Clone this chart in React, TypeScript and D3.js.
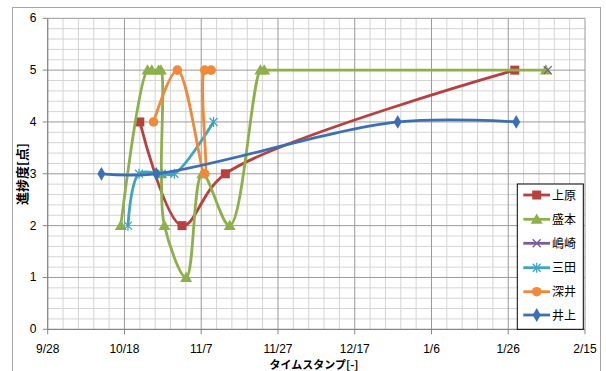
import React from "react";
import * as d3 from "d3";

const W = 606;
const H = 371;

const startDate = "2013-09-28T00:00";
const endDate = "2014-02-15T00:00";
const yTicks = [0, 1, 2, 3, 4, 5, 6];

const seriesNames = ["上原", "盛本", "嶋崎", "三田", "深井", "井上"];
const seriesColors = ["#B7413E", "#8EB04A", "#7A5C9E", "#3FA5BF", "#F0893A", "#3C6FB4"];
const seriesMarkers = ["square", "triangle", "x", "star", "circle", "diamond"];

const ueharaT = ["2013-10-22T00:00", "2013-11-02T00:00", "2013-11-13T07:00", "2014-01-27T17:00"];
const ueharaV = [4, 2, 3, 5];

const morimotoT = [
  "2013-10-17T01:00", "2013-10-24T00:00", "2013-10-25T03:00", "2013-10-26T22:00",
  "2013-10-27T12:00", "2013-10-27T15:00", "2013-10-28T10:00", "2013-11-03T02:00",
  "2013-11-07T07:00", "2013-11-14T10:00", "2013-11-22T10:00", "2013-11-23T10:00",
  "2014-02-04T19:00",
];
const morimotoV = [2, 5, 5, 5, 5, 3, 2, 1, 3, 2, 5, 5, 5];

const shimazakiT = ["2014-02-05T07:00"];
const shimazakiV = [5];

const mitaT = ["2013-10-18T22:00", "2013-10-21T19:00", "2013-10-27T17:00", "2013-10-31T00:00", "2013-11-10T05:00"];
const mitaV = [2, 3, 3, 3, 4];

const fukaiT = ["2013-10-25T14:00", "2013-10-31T19:00", "2013-11-07T22:00", "2013-11-07T22:00", "2013-11-09T14:00"];
const fukaiV = [4, 5, 3, 5, 5];

const inoueT = ["2013-10-12T00:00", "2013-10-26T07:00", "2013-12-28T05:00", "2014-01-28T02:00"];
const inoueV = [3, 3, 4, 4];

const seriesT = [ueharaT, morimotoT, shimazakiT, mitaT, fukaiT, inoueT];
const seriesV = [ueharaV, morimotoV, shimazakiV, mitaV, fukaiV, inoueV];

const parse = d3.utcParse("%Y-%m-%dT%H:%M");
const fmt = d3.utcFormat("%-m/%-d");

const FONT = "'Liberation Sans', Arial, 'Noto Sans CJK JP', sans-serif";
const JFONT = "'Noto Sans CJK JP', 'Liberation Sans', sans-serif";

function Marker({ type, x, y, color }: { type: string; x: number; y: number; color: string }) {
  if (type === "square") {
    return <rect x={x - 4.5} y={y - 4.5} width={9} height={9} fill={color} />;
  }
  if (type === "triangle") {
    const p = d3.symbol().type(d3.symbolTriangle).size(62)();
    return <path d={p || ""} transform={`translate(${x},${y + 1})`} fill={color} />;
  }
  if (type === "circle") {
    return <circle cx={x} cy={y} r={4.8} fill={color} />;
  }
  if (type === "diamond") {
    const p = d3.symbol().type(d3.symbolDiamond).size(55)();
    return <path d={p || ""} transform={`translate(${x},${y})`} fill={color} />;
  }
  if (type === "x") {
    return (
      <g stroke={color} strokeWidth={1.3}>
        <line x1={x - 4} y1={y - 4} x2={x + 4} y2={y + 4} />
        <line x1={x - 4} y1={y + 4} x2={x + 4} y2={y - 4} />
      </g>
    );
  }
  return (
    <g stroke={color} strokeWidth={1.3}>
      <line x1={x - 4} y1={y - 4} x2={x + 4} y2={y + 4} />
      <line x1={x - 4} y1={y + 4} x2={x + 4} y2={y - 4} />
      <line x1={x} y1={y - 5} x2={x} y2={y + 5} />
    </g>
  );
}

export default function App() {
  const t0 = parse(startDate) as Date;
  const t1 = parse(endDate) as Date;
  const left = 47.7;
  const right = 585;
  const top = 18.3;
  const bottom = 329.3;

  const x = d3.scaleUtc().domain([t0, t1]).range([left, right]);
  const y = d3.scaleLinear().domain([0, 6]).range([bottom, top]);

  const majorX: Date[] = [];
  for (let i = 0; i <= 7; i++) majorX.push(d3.utcDay.offset(t0, i * 20));
  const minorX: Date[] = [];
  for (let i = 0; i <= 35; i++) if (i % 5 !== 0) minorX.push(d3.utcDay.offset(t0, i * 4));
  const minorY: number[] = [];
  for (let i = 0; i <= 30; i++) if (i % 5 !== 0) minorY.push(i * 0.2);

  const line = d3
    .line<[number, number]>()
    .x((d) => d[0])
    .y((d) => d[1])
    .curve(d3.curveCatmullRom.alpha(0.5));

  const pts = seriesT.map((ts, i) =>
    ts.map((t, j) => [x(parse(t) as Date), y(seriesV[i][j])] as [number, number])
  );

  const legX = 517.3;
  const legY = 184;
  const legW = 66;
  const legH = 145.3;
  const legRowY = [195, 219.3, 243.3, 267.7, 291.7, 315];

  return (
    <svg
      width={W}
      height={H}
      style={{ position: "absolute", left: 0, top: 0, background: "#fff" }}
    >
      <rect x={0} y={0} width={W} height={H} fill="#fff" />
      <rect x={12.5} y={7.5} width={588} height={380} fill="none" stroke="#A6A6A6" strokeWidth={1} />

      <g stroke="#D4D4D4" strokeWidth={1}>
        {minorX.map((d, i) => (
          <line key={"mx" + i} x1={x(d)} x2={x(d)} y1={top} y2={bottom} />
        ))}
        {minorY.map((v, i) => (
          <line key={"my" + i} x1={left} x2={right} y1={y(v)} y2={y(v)} />
        ))}
      </g>
      <g stroke="#9A9A9A" strokeWidth={1}>
        {majorX.slice(1).map((d, i) => (
          <line key={"Mx" + i} x1={x(d)} x2={x(d)} y1={top} y2={bottom} />
        ))}
        {yTicks.slice(1).map((v, i) => (
          <line key={"My" + i} x1={left} x2={right} y1={y(v)} y2={y(v)} />
        ))}
      </g>

      <line x1={left} x2={right} y1={bottom} y2={bottom} stroke="#868686" strokeWidth={1.3} />
      <line x1={left} x2={left} y1={top} y2={bottom} stroke="#868686" strokeWidth={1.3} />
      {majorX.map((d, i) => (
        <line key={"tx" + i} x1={x(d)} x2={x(d)} y1={bottom} y2={bottom + 5} stroke="#868686" />
      ))}
      {yTicks.map((v, i) => (
        <line key={"ty" + i} x1={left - 5} x2={left} y1={y(v)} y2={y(v)} stroke="#868686" />
      ))}

      {majorX.map((d, i) => (
        <text key={"lx" + i} x={x(d)} y={352.5} textAnchor="middle" fontFamily={FONT} fontSize={12} fill="#000">
          {fmt(d)}
        </text>
      ))}
      {yTicks.map((v, i) => (
        <text key={"ly" + i} x={36.5} y={y(v) + 4} textAnchor="end" fontFamily={FONT} fontSize={12} fill="#000">
          {v}
        </text>
      ))}

      <text x={314} y={368.5} textAnchor="middle" fontFamily={JFONT} fontWeight="bold" fontSize={11} fill="#000">
        タイムスタンプ[-]
      </text>
      <text
        transform={`translate(26.5,174) rotate(-90)`}
        textAnchor="middle"
        fontFamily={JFONT}
        fontWeight="bold"
        fontSize={13}
        fill="#000"
      >
        進捗度[点]
      </text>

      {pts.map((p, i) => (
        <g key={"s" + i}>
          {p.length > 1 && (
            <path d={line(p) || ""} fill="none" stroke={seriesColors[i]} strokeWidth={2.8} strokeLinejoin="round" />
          )}
          {p.map((q, j) => (
            <Marker key={j} type={seriesMarkers[i]} x={q[0]} y={q[1]} color={seriesColors[i]} />
          ))}
        </g>
      ))}

      <rect x={legX} y={legY} width={legW} height={legH} fill="#fff" stroke="#000" strokeWidth={1} />
      {seriesNames.map((n, i) => (
        <g key={"lg" + i}>
          <line x1={523.3} x2={550} y1={legRowY[i]} y2={legRowY[i]} stroke={seriesColors[i]} strokeWidth={2.8} />
          <Marker type={seriesMarkers[i]} x={536.7} y={legRowY[i]} color={seriesColors[i]} />
          <text x={552} y={legRowY[i] + 4.5} fontFamily={JFONT} fontSize={12} fill="#000">
            {n}
          </text>
        </g>
      ))}
    </svg>
  );
}
